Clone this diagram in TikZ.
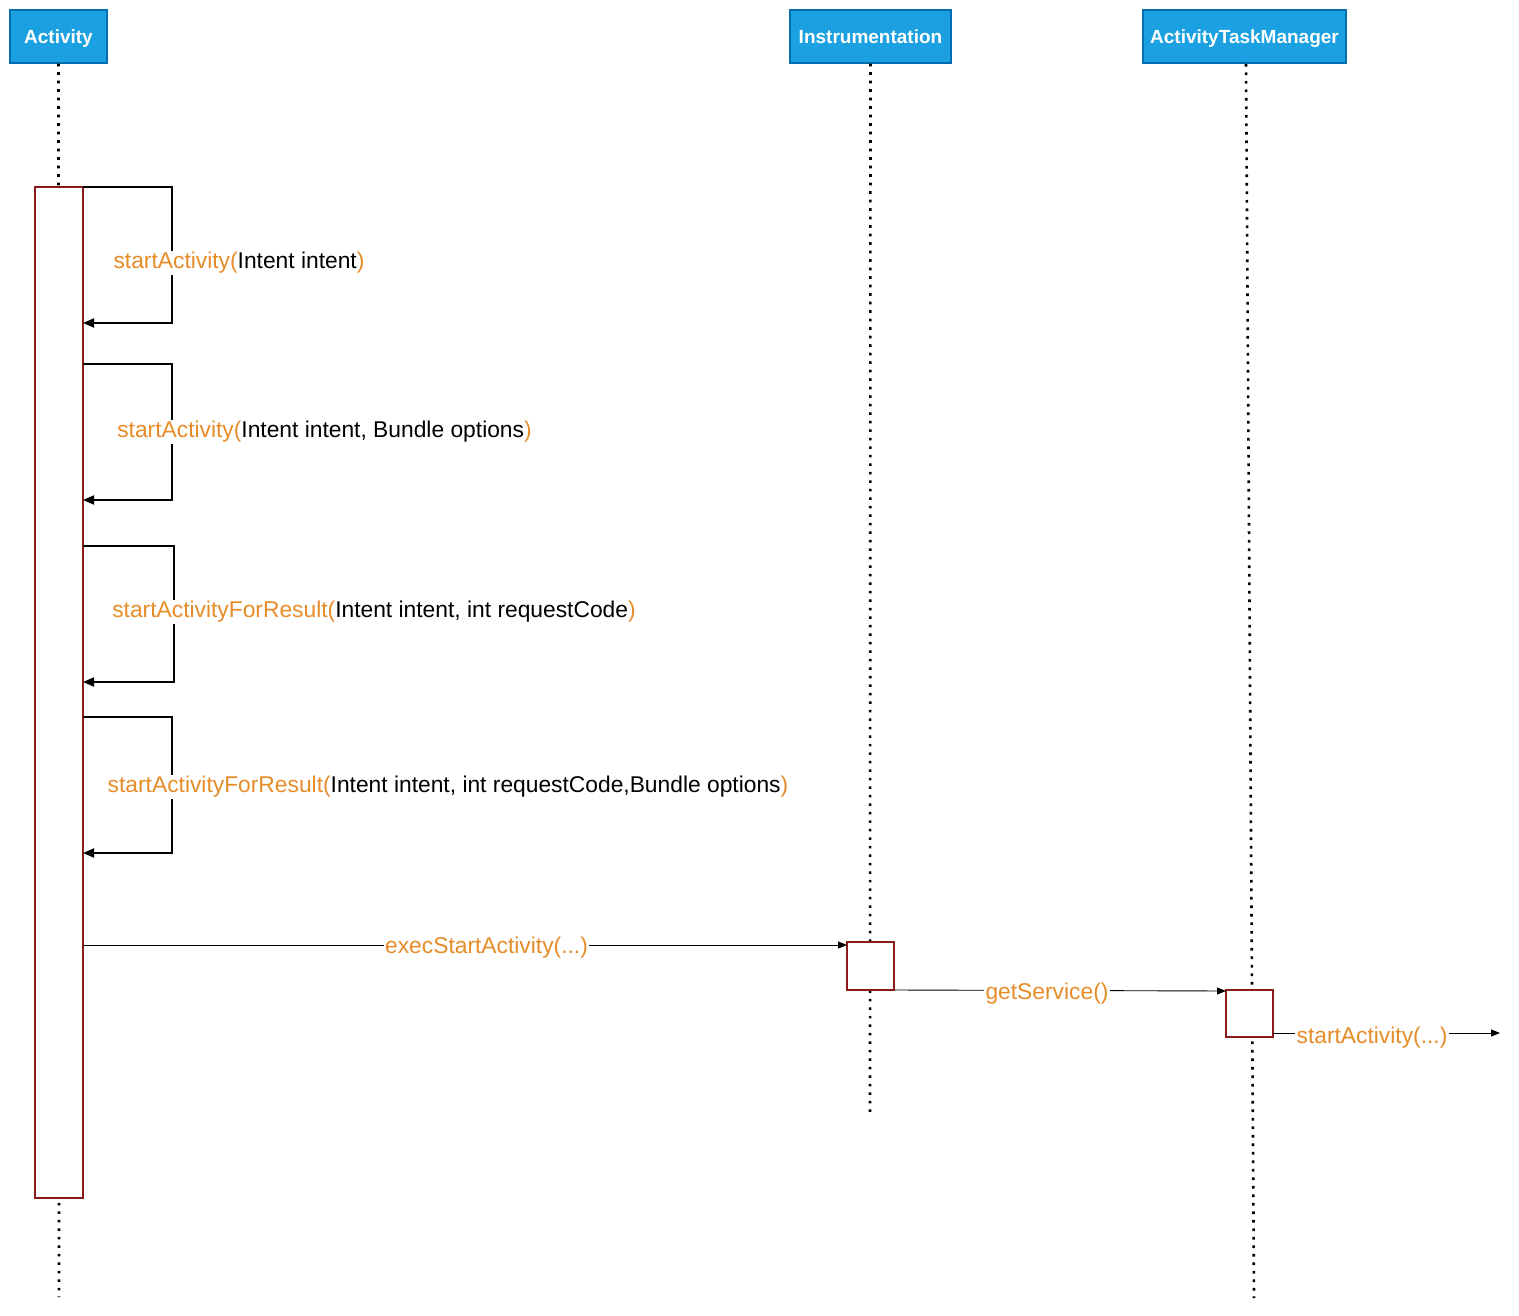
\documentclass[tikz,border=0pt]{standalone}
\usepackage{fontspec}
\setmainfont{Liberation Sans}
\usetikzlibrary{arrows.meta}
\definecolor{hdrfill}{HTML}{1BA1E2}
\definecolor{hdrline}{HTML}{006EAF}
\definecolor{actline}{HTML}{8B1A1A}
\definecolor{lblorange}{RGB}{230,140,40}
\newcommand{\og}[1]{{\color{lblorange}#1}}
\begin{document}
\begin{tikzpicture}[x=1pt,y=-1pt,
  header/.style={draw=hdrline, fill=hdrfill, line width=1.5pt, text=white,
    font=\fontsize{19}{21}\selectfont\bfseries, inner sep=0pt, minimum height=53pt,
    text height=15pt, text depth=0pt},
  lifeline/.style={line width=2.6pt, dash pattern=on 2.6pt off 5.9pt, black},
  actbox/.style={draw=actline, fill=white, line width=1.8pt, inner sep=0pt},
  selfloop/.style={draw=black, line width=1.8pt, -{Triangle[length=11pt,width=9pt]}},
  msg/.style={draw=black, line width=0.9pt, -{Triangle[length=9pt,width=7pt]}},
  lbl/.style={fill=white, inner sep=1.5pt, font=\fontsize{22.8}{26}\selectfont, text=black}
]
\useasboundingbox[fill=white] (0,0) rectangle (1519,1316);

% headers
\node[header, minimum width=97pt] (hA) at (58.5,36.5) {Activity};
\node[header, minimum width=161pt] (hI) at (870.5,36.5) {Instrumentation};
\node[header, minimum width=203pt] (hM) at (1244.5,36.5) {ActivityTaskManager};

% lifeline ends
\coordinate (endA) at (59,1297);
\coordinate (endI) at (870,1112);
\coordinate (topM) at (1246,64);
\coordinate (endM) at (1254,1298);

\draw[lifeline] (hA.south) -- (endA);
\draw[lifeline] (hI.south) -- (endI);
\draw[lifeline] (topM) -- (endM);

% activation boxes
\node[actbox, minimum width=48pt, minimum height=1011pt] (actA) at (59,692.5) {};
\node[actbox, minimum width=47pt, minimum height=48pt] (actI) at (870.5,966) {};
\node[actbox, minimum width=47pt, minimum height=47pt] (actM) at (1249.5,1013.5) {};

% self loops
\coordinate (l1s) at (83,187);  \coordinate (l1e) at (83,323);
\coordinate (l2s) at (83,364);  \coordinate (l2e) at (83,500);
\coordinate (l3s) at (83,546);  \coordinate (l3e) at (83,682);
\coordinate (l4s) at (83,717);  \coordinate (l4e) at (83,853);

\draw[selfloop] (l1s) -- (172,187) -- (172,323) -- (l1e);
\draw[selfloop] (l2s) -- (172,364) -- (172,500) -- (l2e);
\draw[selfloop] (l3s) -- (174,546) -- (174,682) -- (l3e);
\draw[selfloop] (l4s) -- (172,717) -- (172,853) -- (l4e);

\node[lbl] (t1) at (239,263) {\og{startActivity(}Intent intent\og{)}};
\node[lbl] (t2) at (324.5,432) {\og{startActivity(}Intent intent, Bundle options\og{)}};
\node[lbl] (t3) at (374,612) {\og{startActivityForResult(}Intent intent, int requestCode\og{)}};
\node[lbl] (t4) at (448,787) {\og{startActivityForResult(}Intent intent, int requestCode,Bundle options\og{)}};

% messages
\coordinate (e1s) at (83,945);
\coordinate (e1e) at (847,945);
\draw[msg] (e1s) -- (e1e);
\node[lbl, text=lblorange] (m1) at (486.5,948) {execStartActivity(...)};

\coordinate (e2s) at (894,990);
\coordinate (e2e) at (1226,991);
\draw[msg] (e2s) -- (e2e);
\node[lbl, text=lblorange] (m2) at (1047,994) {getService()};

\coordinate (e3s) at (1273,1033);
\coordinate (e3e) at (1500,1033);
\draw[msg] (e3s) -- (e3e);
\node[lbl, text=lblorange] (m3) at (1372,1038) {startActivity(...)};
\end{tikzpicture}
\end{document}
